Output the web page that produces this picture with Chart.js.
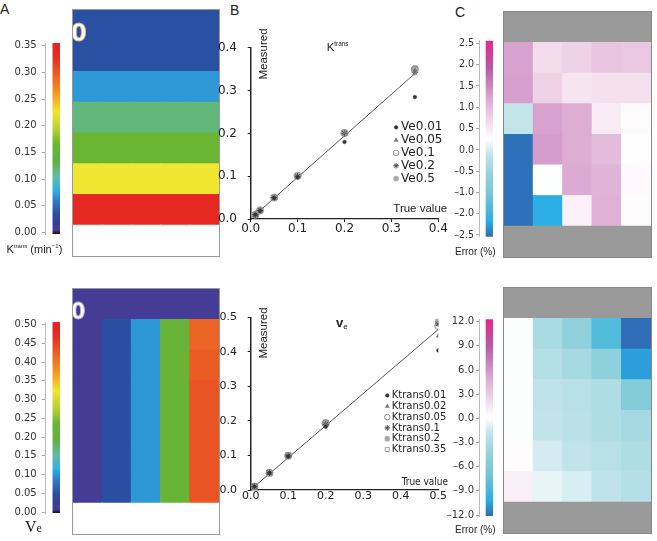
<!DOCTYPE html>
<html>
<head>
<meta charset="utf-8">
<title>Phantom Ktrans / ve maps</title>
<script src="https://cdn.jsdelivr.net/npm/chart.js@4.4.1/dist/chart.umd.min.js"></script>
<style>
  body { margin: 0; background: #fff; }
  #fig { position: relative; width: 657px; height: 541px; overflow: hidden;
         font-family: "Liberation Sans", Arial, sans-serif; color: #222; }
  canvas { position: absolute; display: block; }
  .box { position: absolute; box-sizing: border-box; border: 1px solid #999; overflow: hidden; }
  .box canvas { left: 0; top: 0; }
  .t { position: absolute; white-space: nowrap; line-height: 1; }
  .sup { font-size: 0.55em; position: relative; top: -0.7em; }
  .rot { transform: translate(-50%, -50%) rotate(-90deg); }
  .zero { position: absolute; line-height: 1; color: #fff;
          font: bold 25px "Liberation Sans Narrow", "DejaVu Sans Condensed", sans-serif; }
</style>
</head>
<body>
<div id="fig">
  <!-- panel letters -->
  <div class="t" style="left:0;top:1.5px;font-size:14px">A</div>
  <div class="t" style="left:230px;top:3px;font-size:14px">B</div>
  <div class="t" style="left:455px;top:5px;font-size:14px">C</div>

  <!-- A: maps and colour bars -->
  <canvas id="barKt" width="60" height="213" style="left:0;top:32px"></canvas>
  <div class="box" style="left:72px;top:9px;width:148px;height:248px">
    <canvas id="mapKt" width="146" height="246"></canvas>
    <span class="zero" style="left:-2px;top:8px;-webkit-text-stroke:0.8px #e2b46c">0</span>
  </div>
  <div class="t" style="left:6.5px;top:243.6px;font-size:11px">K<span class="sup">trans</span> (min<span class="sup">−1</span>)</div>

  <canvas id="barVe" width="60" height="213" style="left:0;top:311px"></canvas>
  <div class="box" style="left:72px;top:288px;width:148px;height:247px">
    <canvas id="mapVe" width="146" height="245"></canvas>
    <span class="zero" style="left:-2px;top:8.5px;font-size:23px;-webkit-text-stroke:0.8px #b9aee0">0</span>
  </div>
  <div class="t" style="left:25px;top:519px;font-size:16px;font-family:'Liberation Serif',serif">V<span style="font-size:12px">e</span></div>

  <!-- B: measured vs true -->
  <canvas id="scKt" width="238" height="212" style="left:210px;top:30px"></canvas>
  <canvas id="scVe" width="238" height="212" style="left:210px;top:300px"></canvas>
  <div class="t rot" style="left:263.5px;top:54px;font-size:11.5px">Measured</div>
  <div class="t rot" style="left:263.8px;top:333px;font-size:11.5px">Measured</div>
  <div class="t" style="left:326.7px;top:41.8px;font-size:11.5px">K<span class="sup">trans</span></div>
  <div class="t" style="left:336px;top:315.5px;font-size:13px;font-weight:bold">v<span style="font-size:8px;position:relative;top:2px;font-weight:normal">e</span></div>
  <div class="t" style="left:393.3px;top:202.8px;font-size:11.5px">True value</div>
  <div class="t" style="left:401.7px;top:477px;font-size:10px;font-family:'Liberation Sans Narrow','DejaVu Sans Condensed',sans-serif">True value</div>

  <!-- C: error maps -->
  <canvas id="barKtErr" width="53" height="213" style="left:440px;top:32px"></canvas>
  <div class="box" style="left:503px;top:11px;width:149px;height:247px;border-color:#888">
    <canvas id="mapKtErr" width="147" height="245"></canvas>
  </div>
  <div class="t" style="left:455px;top:246.5px;font-size:10px">Error (%)</div>

  <canvas id="barVeErr" width="53" height="213" style="left:440px;top:311px"></canvas>
  <div class="box" style="left:503px;top:287px;width:149px;height:247px;border-color:#888">
    <canvas id="mapVeErr" width="147" height="245"></canvas>
  </div>
  <div class="t" style="left:455px;top:525.4px;font-size:10px">Error (%)</div>
</div>

<script>
// ---- data ----
const ktransTrue = [0.01, 0.02, 0.05, 0.1, 0.2, 0.35];
const veTrue = [0.01, 0.05, 0.1, 0.2, 0.5];

// B top: measured Ktrans, one series per ve
const ktMeasVe001 = [0.010, 0.019, 0.049, 0.098, 0.180, 0.285];
const ktMeasVe005 = [0.010, 0.020, 0.050, 0.100, 0.200, 0.348];
const ktMeasVe01  = [0.010, 0.020, 0.050, 0.101, 0.201, 0.350];
const ktMeasVe02  = [0.010, 0.020, 0.050, 0.100, 0.200, 0.343];
const ktMeasVe05  = [0.010, 0.020, 0.050, 0.100, 0.202, 0.352];
const ktFit = [[0.01, 0.010], [0.35, 0.340]];

// B bottom: measured ve, one series per Ktrans
const veMeasKt001 = [0.010, 0.049, 0.097, 0.183, 0.404];
const veMeasKt002 = [0.010, 0.049, 0.098, 0.188, 0.446];
const veMeasKt005 = [0.010, 0.049, 0.099, 0.192, 0.475];
const veMeasKt01  = [0.010, 0.050, 0.099, 0.190, 0.481];
const veMeasKt02  = [0.010, 0.050, 0.100, 0.195, 0.487];
const veMeasKt035 = [0.010, 0.050, 0.100, 0.195, 0.484];
const veFit = [[0.01, 0.010], [0.5, 0.465]];

const ktAxisTicks = [0, 0.1, 0.2, 0.3, 0.4];
const veAxisTicks = [0, 0.1, 0.2, 0.3, 0.4, 0.5];

// A: map values (rows = Ktrans, top to bottom; columns = ve)
const ktMapRef = [0.035, 0.035, 0.035, 0.035, 0.035];
const ktMap = [
  [0.035, 0.035, 0.035, 0.035, 0.035],
  [0.070, 0.070, 0.070, 0.070, 0.070],
  [0.116, 0.116, 0.116, 0.116, 0.116],
  [0.165, 0.165, 0.165, 0.165, 0.165],
  [0.226, 0.226, 0.226, 0.226, 0.226],
  [0.340, 0.340, 0.340, 0.340, 0.340]
];
const veMapRef = [0.015, 0.015, 0.015, 0.015, 0.015];
const veMap = [
  [0.015, 0.05, 0.10, 0.225, 0.418],
  [0.015, 0.05, 0.10, 0.225, 0.426],
  [0.015, 0.05, 0.10, 0.225, 0.434],
  [0.015, 0.05, 0.10, 0.225, 0.434],
  [0.015, 0.05, 0.10, 0.225, 0.434],
  [0.015, 0.05, 0.10, 0.225, 0.434]
];

// C: error (%) maps
const ktErr = [
  [1.25, 0.65, 0.75, 0.90, 0.85],
  [1.28, 0.75, 0.55, 0.60, 0.60],
  [-0.10, 1.25, 1.15, 0.475, 0.30],
  [-2.5, 1.30, 1.15, 1.00, 0.27],
  [-2.5, 0.25, 1.17, 1.08, 0.32],
  [-2.5, -2.14, 0.40, 1.10, 0.30]
];
const veErr = [
  [0, -3.2, -4.6, -8.4, -12],
  [0, -2.6, -3.4, -4.7, -10.6],
  [0, -2.0, -2.4, -2.9, -5.5],
  [0, -1.9, -2.3, -2.9, -3.4],
  [0.25, -1.2, -1.9, -2.4, -2.9],
  [1.0, -0.6, -1.1, -2.0, -2.6]
];

// colour bar tick labels
const ktBarTicks = [0, 0.05, 0.1, 0.15, 0.2, 0.25, 0.3, 0.35];
const veBarTicks = [0, 0.05, 0.1, 0.15, 0.2, 0.25, 0.3, 0.35, 0.4, 0.45, 0.5];
const ktErrTicks = [-2.5, -2.0, -1.0, -0.5, 0.0, 0.5, 1.0, 1.5, 2.0, 2.5];
const veErrTicks = [-12, -9, -6, -3, 0, 3, 6, 9, 12];

// ---- colour scales ----
const jet = [[0, '#120a1e'], [0.02, '#4b3a93'], [0.06, '#3a3f98'], [0.1, '#2a4c9e'], [0.17, '#2f7bc3'],
  [0.23, '#2bb1e6'], [0.3, '#64bba4'], [0.38, '#5fb043'], [0.47, '#6ab531'], [0.55, '#b8d334'],
  [0.64, '#f0e530'], [0.72, '#f5a322'], [0.83, '#ec6225'], [0.93, '#e52b22'], [1, '#e52521']];
const diverge = [[0, '#2f6ab3'], [0.08, '#28aee6'], [0.2, '#6cc4d2'], [0.32, '#95d3dc'], [0.43, '#c6e6ec'],
  [0.5, '#ffffff'], [0.58, '#f3ddec'], [0.7, '#dcaad3'], [0.86, '#b45ba6'], [1, '#e6268c']];

function hex(c) { return [1, 3, 5].map(i => parseInt(c.slice(i, i + 2), 16)); }
function mix(stops, f) {
  f = Math.max(0, Math.min(1, f));
  for (let i = 1; i < stops.length; i++) {
    if (f <= stops[i][0]) {
      const [f0, c0] = stops[i - 1], [f1, c1] = stops[i];
      const t = (f - f0) / ((f1 - f0) || 1);
      const a = hex(c0), b = hex(c1);
      return 'rgb(' + a.map((v, k) => Math.round(v + (b[k] - v) * t)).join(',') + ')';
    }
  }
  return stops[stops.length - 1][1];
}
// value -> position on a bar whose labels are not evenly spaced
function tickPos(ticks, v) {
  for (let i = 1; i < ticks.length; i++) {
    if (v <= ticks[i]) return i - 1 + (v - ticks[i - 1]) / (ticks[i] - ticks[i - 1]);
  }
  return ticks.length - 1;
}

const bars = {
  kt:    { min: -0.003, max: 0.355, stops: jet },
  ve:    { min: -0.0026, max: 0.507, stops: jet },
  ktErr: { min: -0.08, max: 9.12, stops: diverge },
  veErr: { min: -12.12, max: 12.3, stops: diverge }
};
const shade = (bar, v) => mix(bar.stops, (v - bar.min) / (bar.max - bar.min));

const quiet = { legend: { display: false }, tooltip: { enabled: false } };
const dash = v => (v < 0 ? '\u2013' : '') + Math.abs(v).toFixed(1);

// ---- heatmaps as stacked bars, one unit per row ----
function heatmap(id, refRow, rows, colour, edgeTop, edgeBottom) {
  const ones = veTrue.map(() => 1);
  const sets = [{ data: ones, backgroundColor: edgeBottom }];
  for (let r = rows.length - 1; r >= 0; r--) sets.push({ data: ones, backgroundColor: rows[r].map(colour) });
  sets.push({ data: ones, backgroundColor: refRow ? refRow.map(colour) : edgeTop });
  new Chart(document.getElementById(id), {
    type: 'bar',
    data: { labels: veTrue.map(String), datasets: sets },
    options: {
      responsive: false, animation: false, events: [],
      plugins: quiet,
      layout: { padding: 0 },
      datasets: { bar: { barPercentage: 1, categoryPercentage: 1, borderWidth: 0, inflateAmount: 0.6 } },
      scales: {
        x: { display: false, stacked: true },
        y: { display: false, stacked: true, min: 0, max: 8 }
      }
    }
  });
}

// ---- colour bars ----
function colourbar(id, bar, ticks, fmt, o) {
  new Chart(document.getElementById(id), {
    type: 'bar',
    data: {
      labels: ['', ''],
      datasets: [{
        data: [null, [bar.min, bar.max]],
        barPercentage: 1, categoryPercentage: 1, borderWidth: 0,
        backgroundColor: c => {
          const ch = c.chart;
          if (!ch.chartArea) return '#888';
          const y = ch.scales.y;
          const g = ch.ctx.createLinearGradient(0, y.getPixelForValue(bar.min), 0, y.getPixelForValue(bar.max));
          bar.stops.forEach(([f, col]) => g.addColorStop(f, col));
          return g;
        }
      }]
    },
    options: {
      responsive: false, animation: false, events: [],
      plugins: quiet,
      layout: { padding: { top: o.padTop, bottom: o.padBottom, left: 0, right: 0 } },
      scales: {
        x: { display: false },
        y: {
          min: bar.min, max: bar.max,
          afterFit: s => { s.width = o.axisW; },
          afterBuildTicks: s => { s.ticks = ticks.map(v => ({ value: v })); },
          grid: { drawOnChartArea: false, color: '#aaa', tickLength: o.tickLen },
          border: { color: '#bbb' },
          ticks: { padding: o.tickPad, color: '#333', font: o.font, callback: v => fmt(v) }
        }
      }
    }
  });
}

// ---- scatter legend drawn inside the plot ----
const sideLegend = {
  id: 'sideLegend',
  afterDatasetsDraw(chart, args, opts) {
    const ctx = chart.ctx;
    const x0 = chart.scales.x.getPixelForValue(opts.x);
    const y0 = chart.scales.y.getPixelForValue(opts.y);
    ctx.save();
    ctx.font = opts.font;
    ctx.textBaseline = 'middle';
    let i = 0;
    chart.data.datasets.forEach(ds => {
      if (ds.noLegend) return;
      const y = y0 + i * opts.step;
      ctx.save();
      ctx.fillStyle = ds.backgroundColor;
      ctx.strokeStyle = ds.borderColor;
      ctx.lineWidth = ds.borderWidth;
      Chart.helpers.drawPoint(ctx, { pointStyle: ds.pointStyle, radius: Math.min(ds.pointRadius, 2.8),
        rotation: 0, borderWidth: ds.borderWidth }, x0, y);
      ctx.restore();
      ctx.fillStyle = '#222';
      ctx.fillText(ds.label, x0 + opts.gap, y);
      i++;
    });
    ctx.restore();
  }
};

const markers = [
  { pointStyle: 'circle', pointRadius: 1.8, backgroundColor: '#333', borderColor: '#333', borderWidth: 0.5 },
  { pointStyle: 'triangle', pointRadius: 2.4, backgroundColor: '#777', borderColor: '#777', borderWidth: 0.5 },
  { pointStyle: 'circle', pointRadius: 3.6, backgroundColor: 'rgba(255,255,255,0)', borderColor: '#888', borderWidth: 0.9 },
  { pointStyle: 'star', pointRadius: 3.2, backgroundColor: 'rgba(0,0,0,0)', borderColor: '#444', borderWidth: 1 },
  { pointStyle: 'rectRounded', pointRadius: 3.4, backgroundColor: '#a9a9a9', borderColor: '#a9a9a9', borderWidth: 0.5 },
  { pointStyle: 'rect', pointRadius: 3.8, backgroundColor: 'rgba(255,255,255,0)', borderColor: '#999', borderWidth: 0.9 }
];

function scatter(id, o) {
  const sets = o.series.map(([label, ys], i) => Object.assign({
    label, data: o.xs.map((x, j) => ({ x, y: ys[j] }))
  }, markers[i]));
  sets.push({ data: o.fit.map(([x, y]) => ({ x, y })), showLine: true, pointRadius: 0,
    borderColor: '#555', borderWidth: 1, noLegend: true });
  const tickFont = { family: 'DejaVu Sans', size: o.fontSize };
  new Chart(document.getElementById(id), {
    type: 'scatter',
    data: { datasets: sets },
    options: {
      responsive: false, animation: false, events: [],
      layout: { padding: { top: o.padTop, right: 9.7, bottom: 0, left: 0 } },
      plugins: Object.assign({ sideLegend: o.legend }, quiet),
      scales: {
        x: {
          type: 'linear', min: 0, max: o.ticks[o.ticks.length - 1],
          afterBuildTicks: s => { s.ticks = o.ticks.map(v => ({ value: v })); },
          afterFit: s => { s.height = o.xAxisH; },
          grid: { drawOnChartArea: false, drawTicks: o.xTickMarks, tickLength: 3, color: '#222' },
          border: { color: '#222', width: 1.2 },
          ticks: { padding: 0, color: '#222', font: tickFont, maxRotation: 0, callback: v => v.toFixed(1) }
        },
        y: {
          type: 'linear', min: 0, max: o.ticks[o.ticks.length - 1],
          afterBuildTicks: s => { s.ticks = o.ticks.map(v => ({ value: v })); },
          afterFit: s => { s.width = 40.7; },
          grid: { drawOnChartArea: false, tickLength: 3, color: '#222' },
          border: { color: '#222', width: 1.5 },
          ticks: { padding: 10.7, color: '#222', font: tickFont, callback: v => v.toFixed(1) }
        }
      }
    },
    plugins: [sideLegend]
  });
}

// ---- build the figure ----
const cbFont = { family: 'DejaVu Sans', size: 10 };
const narrowFont = { family: "'Liberation Sans Narrow', 'DejaVu Sans Condensed', sans-serif", size: 10.5 };

colourbar('barKt', bars.kt, ktBarTicks, v => v.toFixed(2),
  { padTop: 8.7, padBottom: 8.3, axisW: 45.7, tickLen: 4, tickPad: 5, font: cbFont });
colourbar('barVe', bars.ve, veBarTicks, v => v.toFixed(2),
  { padTop: 8, padBottom: 8, axisW: 45.7, tickLen: 4, tickPad: 5, font: cbFont });
colourbar('barKtErr', bars.ktErr, ktErrTicks.map((_, i) => i), i => dash(ktErrTicks[i]),
  { padTop: 8.7, padBottom: 8.3, axisW: 39, tickLen: 3, tickPad: 2, font: narrowFont });
colourbar('barVeErr', bars.veErr, veErrTicks, dash,
  { padTop: 8.3, padBottom: 8, axisW: 39, tickLen: 3, tickPad: 2, font: cbFont });

heatmap('mapKt', ktMapRef, ktMap, v => shade(bars.kt, v), null, '#fff');
heatmap('mapVe', veMapRef, veMap, v => shade(bars.ve, v), null, '#fff');
heatmap('mapKtErr', null, ktErr, v => shade(bars.ktErr, tickPos(ktErrTicks, v)), '#9a9a9a', '#9a9a9a');
heatmap('mapVeErr', null, veErr, v => shade(bars.veErr, v), '#9a9a9a', '#9a9a9a');

scatter('scKt', {
  xs: ktransTrue, ticks: ktAxisTicks, fit: ktFit, fontSize: 12,
  padTop: 11.7, xAxisH: 23, xTickMarks: true,
  series: [['Ve0.01', ktMeasVe001], ['Ve0.05', ktMeasVe005], ['Ve0.1', ktMeasVe01],
           ['Ve0.2', ktMeasVe02], ['Ve0.5', ktMeasVe05]],
  legend: { x: 0.31, y: 0.2143, step: 12.8, gap: 5, font: '12px "DejaVu Sans"' }
});
scatter('scVe', {
  xs: veTrue, ticks: veAxisTicks, fit: veFit, fontSize: 11,
  padTop: 12.7, xAxisH: 22, xTickMarks: false,
  series: [['Ktrans0.01', veMeasKt001], ['Ktrans0.02', veMeasKt002], ['Ktrans0.05', veMeasKt005],
           ['Ktrans0.1', veMeasKt01], ['Ktrans0.2', veMeasKt02], ['Ktrans0.35', veMeasKt035]],
  legend: { x: 0.364, y: 0.2735, step: 10.8, gap: 4.5, font: '10px "DejaVu Sans"' }
});
</script>
</body>
</html>
